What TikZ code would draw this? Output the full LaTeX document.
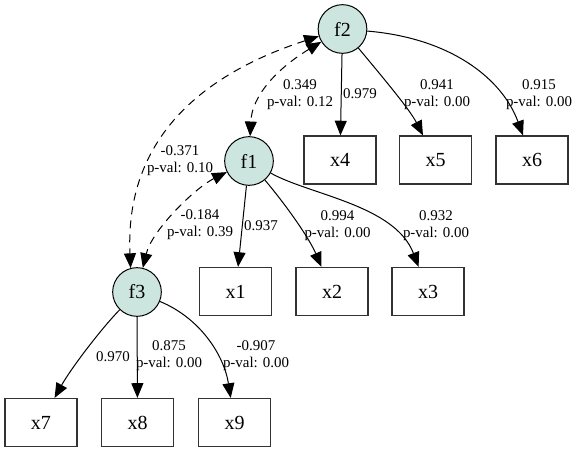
\documentclass[tikz,border=0pt]{standalone}
\usepackage{fontspec}
\setmainfont{Liberation Serif}
\usetikzlibrary{arrows.meta,calc}
\definecolor{latfill}{HTML}{CCE6DF}
\tikzset{
  latent/.style={circle,draw=black,line width=0.75pt,fill=latfill,minimum size=36.5pt,inner sep=0pt,font=\fontsize{15}{18}\selectfont},
  obs/.style={rectangle,draw=black!80,line width=0.9pt,minimum width=54pt,minimum height=36pt,inner sep=0pt,font=\fontsize{15}{18}\selectfont},
  elabel/.style={align=center,inner sep=0pt,font=\fontsize{11.2}{12.8}\selectfont},
  load/.style={line width=0.75pt,-{Triangle[length=11pt,width=9pt]}},
  cov/.style={line width=0.75pt,dash pattern=on 6pt off 4.5pt,{Triangle[length=11pt,width=9pt]}-{Triangle[length=11pt,width=9pt]}}
}
\begin{document}
\begin{tikzpicture}[x=0.75pt,y=-0.75pt]
\useasboundingbox (0,0) rectangle (579,452);
% latent nodes
\node[latent] (f2) at (342.5,29) {f2};
\node[latent] (f1) at (249,161) {f1};
\node[latent] (f3) at (137,292) {f3};
% observed nodes
\node[obs] (x4) at (340,160) {x4};
\node[obs] (x5) at (435.5,160) {x5};
\node[obs] (x6) at (532,160) {x6};
\node[obs] (x1) at (235.5,291.5) {x1};
\node[obs] (x2) at (332,291.5) {x2};
\node[obs] (x3) at (428,291.5) {x3};
\node[obs] (x7) at (41,422.5) {x7};
\node[obs] (x8) at (137.5,422.5) {x8};
\node[obs] (x9) at (234.5,422.5) {x9};
% loadings
\draw[load] (f2) -- (x4);
\draw[load] (f2) .. controls (385,80) and (410,110) .. (x5);
\draw[load] (f2) .. controls (450,38) and (502,78) .. (x6);
\draw[load] (f1) -- (x1);
\draw[load] (f1) .. controls (290,210) and (310,240) .. (x2);
\draw[load] (f1) .. controls (310,195) and (395,205) .. (x3);
\draw[load] (f3) .. controls (100,330) and (70,370) .. (x7);
\draw[load] (f3) -- (x8);
\draw[load] (f3) .. controls (200,318) and (224,355) .. (x9);
% covariances
\draw[cov] (f2.197) .. controls (200,75) and (125,140) .. (f3.105);
\draw[cov] (f2) .. controls (278,68) and (252,95) .. (f1);
\draw[cov] (f1) .. controls (195,188) and (152,230) .. (f3);
% labels
\node[elabel] (l24) at (360,94) {0.979};
\node[elabel] (l25) at (437,94.5) {0.941\\p-val: 0.00};
\node[elabel] (l26) at (539,94.5) {0.915\\p-val: 0.00};
\node[elabel] (l21) at (300,94.5) {0.349\\p-val: 0.12};
\node[elabel] (l23) at (180,161) {-0.371\\p-val: 0.10};
\node[elabel] (l13) at (200,225) {-0.184\\p-val: 0.39};
\node[elabel] (l11) at (261,226) {0.937};
\node[elabel] (l12) at (337.5,225.5) {0.994\\p-val: 0.00};
\node[elabel] (l1x3) at (436,225.5) {0.932\\p-val: 0.00};
\node[elabel] (l37) at (113,357) {0.970};
\node[elabel] (l38) at (169,355.5) {0.875\\p-val: 0.00};
\node[elabel] (l39) at (256,355.5) {-0.907\\p-val: 0.00};
\end{tikzpicture}
\end{document}
